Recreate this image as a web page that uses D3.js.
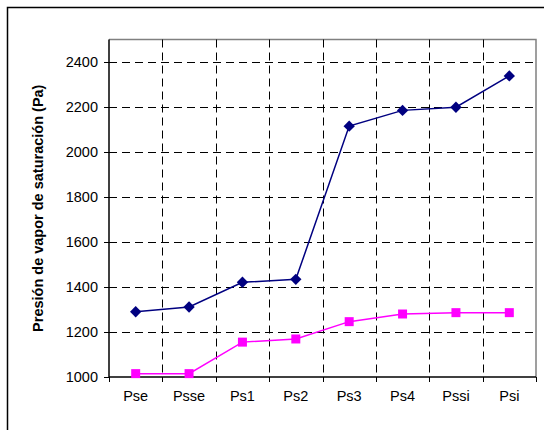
<!DOCTYPE html>
<html><head><meta charset="utf-8">
<script src="https://cdn.jsdelivr.net/npm/d3@7"></script>
<style>body{margin:0;background:#fff}svg{display:block}</style>
</head><body>
<svg id="c" width="544" height="430"></svg>
<script>
const categories = ["Pse","Psse","Ps1","Ps2","Ps3","Ps4","Pssi","Psi"];
const seriesUpper = [1290,1311,1421,1434,2115,2185,2199,2338];
const seriesLower = [1015,1015,1155,1169,1246,1280,1286,1286];
const yTicks = [1000,1200,1400,1600,1800,2000,2200,2400];
const yLabel = "Presión de vapor de saturación (Pa)";

const svg = d3.select("#c");
const m = {left:109, top:39.5, right:536, bottom:377};
const x = d3.scaleBand().domain(categories).range([m.left, m.right]);
const y = d3.scaleLinear().domain([1000,2500]).range([m.bottom, m.top]);

// outer frame
svg.append("path").attr("d","M7.5,430 V7.5 H544").attr("fill","none").attr("stroke","#000").attr("stroke-width",1.5);

// plot frame (top/right gray)
svg.append("path").attr("d",`M${m.left},${m.top} H${m.right} V${m.bottom}`).attr("fill","none").attr("stroke","#808080").attr("stroke-width",1.5);

// horizontal grid
svg.append("g").selectAll("line").data(yTicks.filter(d=>d>1000)).join("line")
  .attr("x1",m.left).attr("x2",m.right)
  .attr("y1",d=>Math.round(y(d))+0.5).attr("y2",d=>Math.round(y(d))+0.5)
  .attr("stroke","#000").attr("stroke-dasharray","8,5").attr("stroke-width",1);

// vertical grid at band boundaries
const bounds = categories.slice(1).map(c=>x(c));
svg.append("g").selectAll("line").data(bounds).join("line")
  .attr("x1",d=>Math.round(d)+0.5).attr("x2",d=>Math.round(d)+0.5)
  .attr("y1",m.top).attr("y2",m.bottom)
  .attr("stroke","#000").attr("stroke-dasharray","8,5").attr("stroke-width",1);

// y axis
const yAxis = svg.append("g").attr("transform",`translate(${m.left},0)`)
  .call(d3.axisLeft(y).tickValues(yTicks).tickSize(5).tickSizeOuter(0).tickPadding(6).tickFormat(d3.format("d")));
yAxis.select(".domain").attr("d",`M0,${m.top}V${m.bottom}`).attr("stroke","#000").attr("stroke-width",1.5);
yAxis.selectAll(".tick line").attr("stroke","#000");
yAxis.selectAll("text").attr("font-family","'Liberation Sans', Arial, sans-serif").attr("font-size",14.5).attr("fill","#000");

// x axis
const xAxis = svg.append("g").attr("transform",`translate(0,${m.bottom})`)
  .call(d3.axisBottom(x).tickSize(0).tickPadding(14));
xAxis.select(".domain").attr("d",`M${m.left},0H${m.right}`).attr("stroke","#000").attr("stroke-width",1.5);
xAxis.selectAll("text").attr("font-family","'Liberation Sans', Arial, sans-serif").attr("font-size",14.5).attr("fill","#000");
// x tick marks at band boundaries
xAxis.append("g").selectAll("line").data([m.left, ...bounds, m.right]).join("line")
  .attr("x1",d=>Math.round(d)+0.5).attr("x2",d=>Math.round(d)+0.5)
  .attr("y1",0).attr("y2",5).attr("stroke","#000");

// y label
svg.append("text").attr("transform",`translate(43,${(m.top+m.bottom)/2}) rotate(-90)`)
  .attr("text-anchor","middle").attr("font-family","'Liberation Sans', Arial, sans-serif")
  .attr("font-size",14.5).attr("font-weight","bold").text(yLabel);

const cx = c => x(c) + x.bandwidth()/2;
const line = d3.line().x((d,i)=>cx(categories[i])).y(d=>y(d));

svg.append("path").datum(seriesUpper).attr("d",line).attr("fill","none").attr("stroke","#000080").attr("stroke-width",1.5);
svg.append("path").datum(seriesLower).attr("d",line).attr("fill","none").attr("stroke","#FF00FF").attr("stroke-width",1.5);

svg.append("g").selectAll("path").data(seriesUpper).join("path")
  .attr("d",d3.symbol(d3.symbolSquare, 64))
  .attr("transform",(d,i)=>`translate(${cx(categories[i])},${y(d)}) rotate(45)`)
  .attr("fill","#000080");

svg.append("g").selectAll("path").data(seriesLower).join("path")
  .attr("d",d3.symbol(d3.symbolSquare, 81))
  .attr("transform",(d,i)=>`translate(${cx(categories[i])},${y(d)})`)
  .attr("fill","#FF00FF");
</script>
</body></html>
